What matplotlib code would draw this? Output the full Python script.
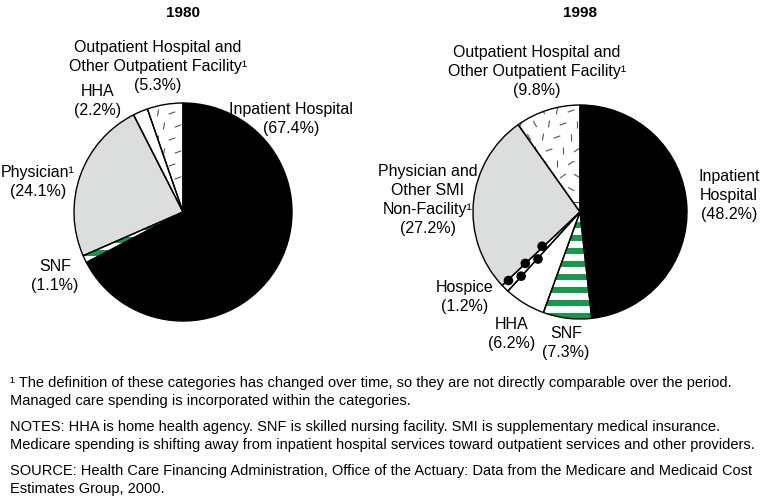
import numpy as np
import matplotlib.pyplot as plt
from matplotlib.patches import Circle, Rectangle
from matplotlib.collections import LineCollection

W, H = 765, 498

# shares of Medicare spending, clockwise from 12 o'clock
cats_1980 = ["Inpatient Hospital", "SNF", "Physician", "HHA", "Outpatient"]
share_1980 = [67.4, 1.1, 24.1, 2.2, 5.3]
cats_1998 = ["Inpatient Hospital", "SNF", "HHA", "Hospice", "Physician", "Outpatient"]
share_1998 = [48.2, 7.3, 6.2, 1.2, 27.2, 9.8]

GREEN = "#16994a"
GRAY = "#dcdedd"
FILL = {"Inpatient Hospital": "black", "SNF": "white", "Physician": GRAY,
        "HHA": "white", "Outpatient": "white", "Hospice": "white"}

plt.rcParams['font.family'] = ['Liberation Sans', 'DejaVu Sans']

fig = plt.figure(figsize=(W / 100, H / 100), dpi=100)
ax = fig.add_axes([0, 0, 1, 1])
ax.axis('off')


def stripes(wedge, cx, cy, r):
    for y in np.arange(cy - r, cy + r, 13):
        rect = Rectangle((cx - r, y), 2 * r, 6.5, color=GREEN, lw=0, zorder=3)
        ax.add_patch(rect)
        rect.set_clip_path(wedge)


def dashes(wedge, cx, cy, r):
    angles = [90, 35, 150, 0, 60, 120, 80, 20]
    segs = []
    k = 0
    for i, y in enumerate(np.arange(cy - r, cy + r, 13)):
        for x in np.arange(cx - r + (i % 2) * 6, cx + r, 14):
            a = np.radians(angles[k % len(angles)])
            k += 1
            dx, dy = 3.5 * np.cos(a), 3.5 * np.sin(a)
            segs.append([(x - dx, y - dy), (x + dx, y + dy)])
    lc = LineCollection(segs, colors="#555555", linewidths=0.8, zorder=3)
    ax.add_collection(lc)
    lc.set_clip_path(wedge)


def dots(wedge, cx, cy, r):
    mid = np.radians((wedge.theta1 + wedge.theta2) / 2)
    ux, uy = np.cos(mid), np.sin(mid)
    px, py = -uy, ux
    for j, d in enumerate(np.arange(r - 8, r * 0.42, -12)):
        off = 3.0 if j % 2 else -3.0
        c = Circle((cx + d * ux + off * px, cy + d * uy + off * py), 4.8,
                   color="black", lw=0, zorder=3)
        ax.add_patch(c)


def draw_pie(cats, shares, cx, cy, r):
    wedges, _ = ax.pie(shares, colors=[FILL[c] for c in cats], startangle=90,
                       counterclock=False, center=(cx, cy), radius=r,
                       wedgeprops=dict(lw=0))
    for cat, w in zip(cats, wedges):
        if cat == "SNF":
            stripes(w, cx, cy, r)
        elif cat == "Outpatient":
            dashes(w, cx, cy, r)
        elif cat == "Hospice":
            dots(w, cx, cy, r)
    ax.pie(shares, colors=["none"] * len(cats), startangle=90,
           counterclock=False, center=(cx, cy), radius=r,
           wedgeprops=dict(lw=1, edgecolor="black", zorder=4))


draw_pie(cats_1980, share_1980, 183, H - 212, 109)
draw_pie(cats_1998, share_1998, 580, H - 212, 107)
ax.set_xlim(0, W)
ax.set_ylim(0, H)
ax.set_aspect('auto')


def T(x, y, s, **kw):
    kw.setdefault('ha', 'center')
    kw.setdefault('va', 'center')
    kw.setdefault('fontsize', 11.5)
    ax.text(x, H - y, s, **kw)


def label(x, y, lines, step=19):
    # one text per line, centred block around y
    y0 = y - step * (len(lines) - 1) / 2
    for i, s in enumerate(lines):
        T(x, y0 + i * step, s)


T(183, 13, "1980", fontweight='bold', fontsize=11)
T(580, 13, "1998", fontweight='bold', fontsize=11)

label(158, 66, ["Outpatient Hospital and", "Other Outpatient Facility¹", "(5.3%)"])
label(98, 101, ["HHA", "(2.2%)"])
label(291, 119, ["Inpatient Hospital", "(67.4%)"])
label(38, 182, ["Physician¹", "(24.1%)"])
label(55, 276, ["SNF", "(1.1%)"])

label(537, 71, ["Outpatient Hospital and", "Other Outpatient Facility¹", "(9.8%)"])
label(428, 200, ["Physician and", "Other SMI", "Non-Facility¹", "(27.2%)"])
label(729, 195, ["Inpatient", "Hospital", "(48.2%)"])
label(465, 297, ["Hospice", "(1.2%)"])
label(512, 334, ["HHA", "(6.2%)"])
label(566, 343, ["SNF", "(7.3%)"])

notes = [
    (383, "¹ The definition of these categories has changed over time, so they are not directly comparable over the period."),
    (401, "Managed care spending is incorporated within the categories."),
    (427, "NOTES: HHA is home health agency. SNF is skilled nursing facility. SMI is supplementary medical insurance."),
    (445, "Medicare spending is shifting away from inpatient hospital services toward outpatient services and other providers."),
    (471, "SOURCE: Health Care Financing Administration, Office of the Actuary: Data from the Medicare and Medicaid Cost"),
    (489, "Estimates Group, 2000."),
]
for y, s in notes:
    T(10, y, s, ha='left', fontsize=10.5)

fig.savefig("out.png", dpi=100)
